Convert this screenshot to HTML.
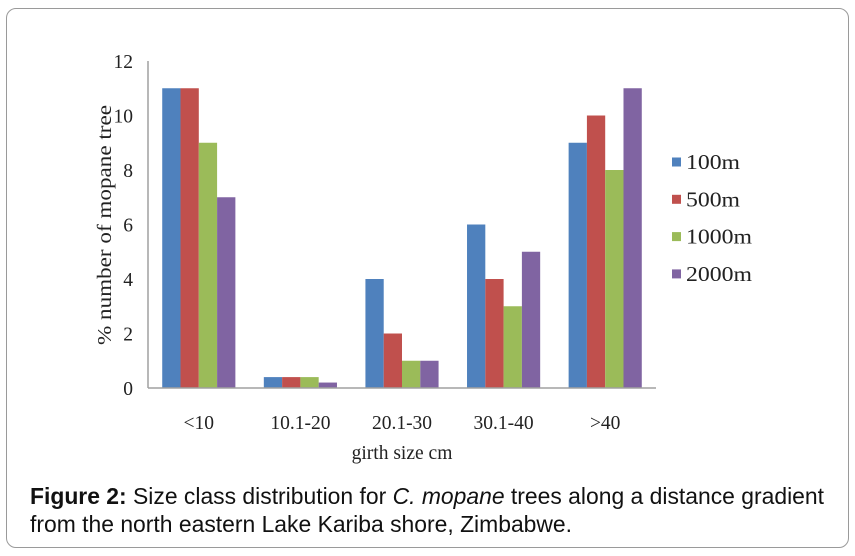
<!DOCTYPE html>
<html><head><meta charset="utf-8"><style>
body{margin:0;background:#fff;width:855px;height:556px;overflow:hidden;position:relative;font-family:"Liberation Sans",sans-serif}
#frame{position:absolute;left:6px;top:8px;width:843px;height:540px;border:1px solid #9a9a9a;border-radius:10px;box-sizing:border-box}
#cap{position:absolute;left:30px;top:482px;font-size:22.9px;line-height:28px;color:#111;white-space:nowrap}
svg{position:absolute;left:0;top:0}
</style></head><body>
<div id="frame"></div>
<svg id="chart" width="855" height="480"></svg>
<div id="cap"><b>Figure 2:</b> Size class distribution for <i>C. mopane</i> trees along a distance gradient<br>from the north eastern Lake Kariba shore, Zimbabwe.</div>
<script>
const categories=["<10","10.1-20","20.1-30","30.1-40",">40"];
const seriesNames=["100m","500m","1000m","2000m"];
const s100=[11,0.4,4,6,9];
const s500=[11,0.4,2,4,10];
const s1000=[9,0.4,1,3,8];
const s2000=[7,0.2,1,5,11];
const yTicks=[0,2,4,6,8,10,12];
const colors=["#4f81bd","#c0504d","#9bbb59","#8064a2"];
const series=[s100,s500,s1000,s2000];
const NS="http://www.w3.org/2000/svg";
const svg=document.getElementById('chart');
const x0=148,x1=656,y0=388,y1=61,ymax=12;
const y=v=>y0-(v/ymax)*(y0-y1);
const cw=(x1-x0)/categories.length;
function mk(t,a,txt){const e=document.createElementNS(NS,t);for(const k in a)e.setAttribute(k,a[k]);if(txt!=null)e.textContent=txt;svg.appendChild(e);return e;}
const serif='"Liberation Serif",serif';
yTicks.forEach(t=>{
 const e=mk('text',{x:133,y:y(t)+7,'text-anchor':'end','font-family':serif,'font-size':19.5,fill:'#222'},t);
 
 
});
const bw=cw*0.72/4;
categories.forEach((c,i)=>{
 const gx=x0+i*cw+cw*0.14;
 series.forEach((s,j)=>{
  const r=mk('rect',{x:gx+j*bw,y:y(s[i]),width:bw,height:y0-y(s[i]),fill:colors[j]});
  
  
 });
 const l=mk('text',{x:x0+i*cw+cw/2,y:429,'text-anchor':'middle','font-family':serif,'font-size':19.5,fill:'#222'},c);
 
 
});
const ya=mk('line',{x1:x0,y1:y1,x2:x0,y2:y0,stroke:'#a0a0a0','stroke-width':1.5});


const xa=mk('line',{x1:x0,y1:y0,x2:x1,y2:y0,stroke:'#a0a0a0','stroke-width':1.5});


const xt=mk('text',{x:402,y:459,'text-anchor':'middle','font-family':serif,'font-size':19.5,fill:'#222'},'girth size cm');


const yt=mk('text',{x:0,y:0,'text-anchor':'middle','font-family':serif,'font-size':19.5,fill:'#222',textLength:240,lengthAdjust:'spacingAndGlyphs',transform:'translate(111,225) rotate(-90)'},'% number of mopane tree');


const lw=[54,54,66,66];
seriesNames.forEach((n,j)=>{
 const ly=162+j*37.3;
 const r=mk('rect',{x:672,y:ly-4.5,width:9,height:9,fill:colors[j]});
 
 
 const t=mk('text',{x:686,y:ly+7,'font-family':serif,'font-size':21,fill:'#222',textLength:lw[j],lengthAdjust:'spacingAndGlyphs'},n);
 
 
});
</script>
</body></html>
